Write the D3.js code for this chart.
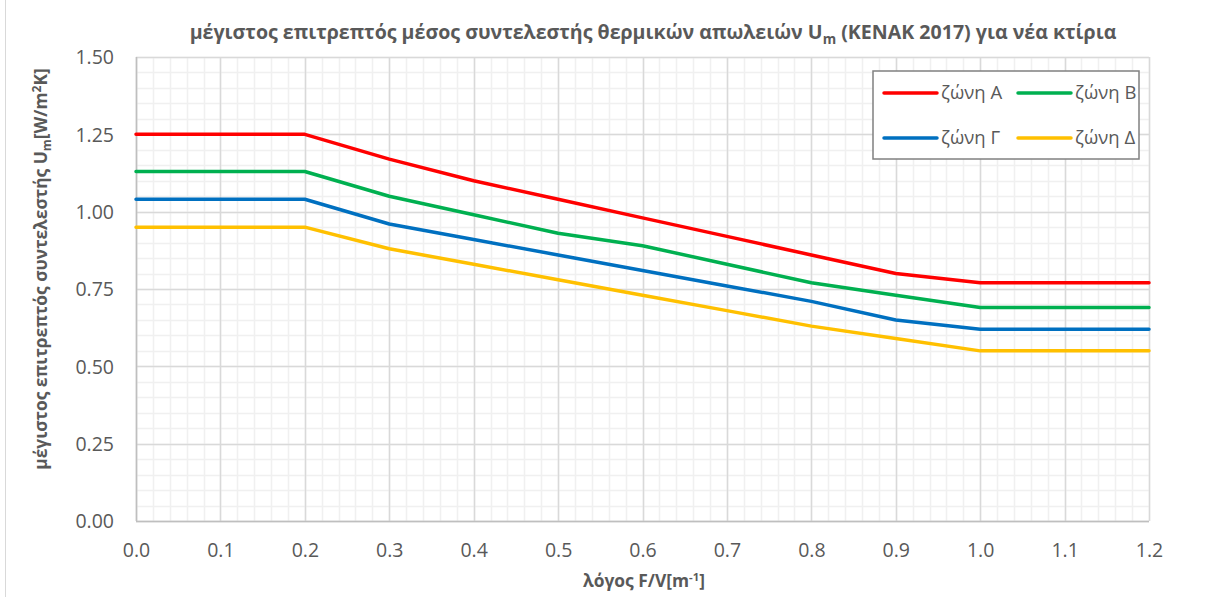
<!DOCTYPE html>
<html><head><meta charset="utf-8">
<script src="https://cdn.jsdelivr.net/npm/d3@7"></script>
<style>
html,body{margin:0;padding:0;background:#fff;}
svg{display:block;font-family:"Open Sans","Noto Sans",sans-serif;}
</style></head>
<body>
<svg id="chart" width="1210" height="597"></svg>
<script>
// ---- data ----
const fv = [0.0, 0.2, 0.3, 0.4, 0.5, 0.6, 0.7, 0.8, 0.9, 1.0, 1.2];
const zoneA = [1.25, 1.25, 1.17, 1.10, 1.04, 0.98, 0.92, 0.86, 0.80, 0.77, 0.77];
const zoneB = [1.13, 1.13, 1.05, 0.99, 0.93, 0.89, 0.83, 0.77, 0.73, 0.69, 0.69];
const zoneG = [1.04, 1.04, 0.96, 0.91, 0.86, 0.81, 0.76, 0.71, 0.65, 0.62, 0.62];
const zoneD = [0.95, 0.95, 0.88, 0.83, 0.78, 0.73, 0.68, 0.63, 0.59, 0.55, 0.55];
const seriesNames = ["ζώνη Α", "ζώνη Β", "ζώνη Γ", "ζώνη Δ"];
const seriesColors = ["#ff0000", "#00b050", "#0070c0", "#ffc000"];
const xTicks = [0.0,0.1,0.2,0.3,0.4,0.5,0.6,0.7,0.8,0.9,1.0,1.1,1.2];
const yTicks = [0.00,0.25,0.50,0.75,1.00,1.25,1.50];

const svg = d3.select("#chart");
const M = {left:136, right:1149, top:57, bottom:521};
const x = d3.scaleLinear().domain([0,1.2]).range([M.left, M.right]);
const y = d3.scaleLinear().domain([0,1.5]).range([M.bottom, M.top]);
const txt = "#595959";

// outer left border
svg.append("line").attr("x1",5.5).attr("x2",5.5).attr("y1",0).attr("y2",597)
  .attr("stroke","#d9d9d9").attr("stroke-width",1);

// minor grid
const g = svg.append("g");
const xMinor = d3.range(0, 1.2001, 0.02);
const yMinor = d3.range(0, 1.5001, 0.05);
g.selectAll(".xm").data(xMinor).enter().append("line")
  .attr("x1",d=>Math.round(x(d))+0.5).attr("x2",d=>Math.round(x(d))+0.5)
  .attr("y1",M.top).attr("y2",M.bottom).attr("stroke","#f0f0f0").attr("stroke-width",1.5);
g.selectAll(".ym").data(yMinor).enter().append("line")
  .attr("y1",d=>Math.round(y(d))+0.5).attr("y2",d=>Math.round(y(d))+0.5)
  .attr("x1",M.left).attr("x2",M.right).attr("stroke","#f0f0f0").attr("stroke-width",1.5);
// major grid
g.selectAll(".xM").data(xTicks).enter().append("line")
  .attr("x1",d=>Math.round(x(d))+0.5).attr("x2",d=>Math.round(x(d))+0.5)
  .attr("y1",M.top).attr("y2",M.bottom).attr("stroke","#d9d9d9").attr("stroke-width",1.5);
g.selectAll(".yM").data(yTicks).enter().append("line")
  .attr("y1",d=>Math.round(y(d))+0.5).attr("y2",d=>Math.round(y(d))+0.5)
  .attr("x1",M.left).attr("x2",M.right).attr("stroke","#d9d9d9").attr("stroke-width",1.5);

// axes lines
svg.append("line").attr("x1",M.left+0.5).attr("x2",M.left+0.5).attr("y1",M.top).attr("y2",M.bottom)
  .attr("stroke","#bfbfbf").attr("stroke-width",1.5);
svg.append("line").attr("x1",M.left).attr("x2",M.right).attr("y1",M.bottom+0.5).attr("y2",M.bottom+0.5)
  .attr("stroke","#bfbfbf").attr("stroke-width",1.5);

// axes ticks labels via d3 axes
const xAxis = d3.axisBottom(x).tickValues(xTicks).tickFormat(d3.format(".1f")).tickSize(0).tickPadding(22);
const yAxis = d3.axisLeft(y).tickValues(yTicks).tickFormat(d3.format(".2f")).tickSize(0).tickPadding(22);
const gx = svg.append("g").attr("transform",`translate(0,${M.bottom})`).call(xAxis);
const gy = svg.append("g").attr("transform",`translate(${M.left},0)`).call(yAxis);
[gx,gy].forEach(a=>{
  a.select(".domain").remove();
  a.selectAll("text").attr("fill",txt).style("font-size","19.5px")
   .style("font-family",'"Open Sans","Noto Sans",sans-serif');
});
gy.selectAll("text").attr("dy","0.35em");

// lines
const all = [zoneA, zoneB, zoneG, zoneD];
const line = d3.line().x((d,i)=>x(fv[i])).y(d=>y(d));
svg.append("g").selectAll("path").data(all).enter().append("path")
  .attr("d",line).attr("fill","none")
  .attr("stroke",(d,i)=>seriesColors[i]).attr("stroke-width",3.5)
  .attr("stroke-linejoin","round").attr("stroke-linecap","round");

// legend
const lg = svg.append("g");
lg.append("rect").attr("x",873).attr("y",71).attr("width",266).attr("height",88)
  .attr("fill","#fff").attr("stroke","#808080").attr("stroke-width",1.5);
const lpos = [[884,93],[1018,93],[884,138],[1018,138]];
seriesNames.forEach((n,i)=>{
  const [lx,ly] = lpos[i];
  lg.append("line").attr("x1",lx).attr("x2",lx+53).attr("y1",ly).attr("y2",ly)
    .attr("stroke",seriesColors[i]).attr("stroke-width",3.5).attr("stroke-linecap","round");
  lg.append("text").attr("x",lx+57).attr("y",ly).attr("dy","0.35em")
    .attr("fill",txt).style("font-size","18.5px").text(n);
});

function fit(sel, w){
  const bw = sel.node().getBBox().width;
  const fs = parseFloat(sel.style("font-size"));
  sel.style("font-size",(fs*w/bw)+"px");
}

// title
const t = svg.append("text").attr("x",653).attr("y",39).attr("text-anchor","middle")
  .attr("fill",txt).style("font-weight","bold").style("font-size","17px");
t.append("tspan").text("μέγιστος επιτρεπτός μέσος συντελεστής θερμικών απωλειών U");
t.append("tspan").attr("dy",5).style("font-size","0.7em").text("m");
t.append("tspan").attr("dy",-5).text(" (KENAK 2017) για νέα κτίρια");
fit(t, 927);

// x title
const xt = svg.append("text").attr("x",644).attr("y",587).attr("text-anchor","middle")
  .attr("fill",txt).style("font-weight","bold").style("font-size","15px");
xt.append("tspan").text("λόγος F/V[m");
xt.append("tspan").attr("dy",-6).style("font-size","0.65em").text("-1");
xt.append("tspan").attr("dy",6).text("]");
fit(xt, 122);

// y title
const yt = svg.append("text").attr("transform","translate(47,269) rotate(-90)").attr("text-anchor","middle")
  .attr("fill",txt).style("font-weight","bold").style("font-size","15px");
yt.append("tspan").text("μέγιστος επιτρεπτός συντελεστής U");
yt.append("tspan").attr("dy",4).style("font-size","0.7em").text("m");
yt.append("tspan").attr("dy",-4).text("[W/m");
yt.append("tspan").attr("dy",-6).style("font-size","0.7em").text("2");
yt.append("tspan").attr("dy",6).text("K]");
fit(yt, 402);
</script>
</body></html>
